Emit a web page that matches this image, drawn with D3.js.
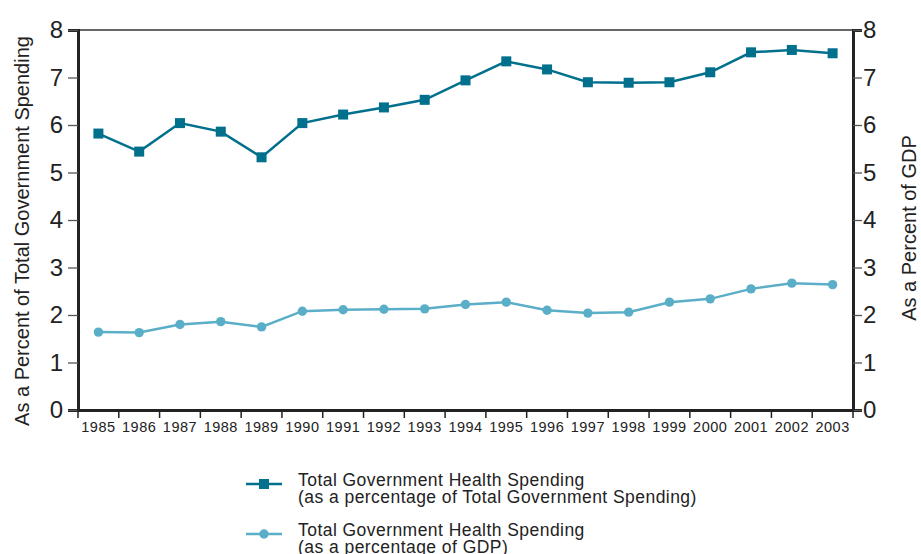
<!DOCTYPE html>
<html><head><meta charset="utf-8">
<script src="https://cdn.jsdelivr.net/npm/d3@7"></script>
<style>body{margin:0;background:#fff}svg{display:block;font-family:"Liberation Sans",Arial,sans-serif}</style>
</head><body><svg id="c" width="921" height="554"></svg>
<script>
const years = ["1985","1986","1987","1988","1989","1990","1991","1992","1993","1994","1995","1996","1997","1998","1999","2000","2001","2002","2003"];
const pctGovSpending = [5.82,5.44,6.04,5.86,5.32,6.04,6.22,6.37,6.53,6.94,7.34,7.17,6.90,6.89,6.90,7.11,7.53,7.58,7.51];
const pctGDP = [1.64,1.63,1.80,1.86,1.75,2.08,2.11,2.12,2.13,2.22,2.27,2.10,2.04,2.06,2.27,2.34,2.55,2.67,2.64];
const yTicks = [0,1,2,3,4,5,6,7,8];
const leftTitle = "As a Percent of Total Government Spending";
const rightTitle = "As a Percent of GDP";
const legendLabels = [["Total Government Health Spending","(as a percentage of Total Government Spending)"],["Total Government Health Spending","(as a percentage of GDP)"]];

const c1 = "#00708d", c2 = "#5aaec7";
const svg = d3.select("#c");
const L = 78, R = 853, T = 30, B = 410;
const x = d3.scaleBand().domain(years).range([L, R]);
const y = d3.scaleLinear().domain([0, 8]).range([B, T]);

svg.append("line").attr("x1", L).attr("x2", R).attr("y1", T).attr("y2", T).attr("stroke", "#333").attr("stroke-width", 1.5);

const gl = svg.append("g").attr("transform", `translate(${L},0)`)
  .call(d3.axisLeft(y).tickValues(yTicks).tickSize(10).tickPadding(5).tickFormat(d3.format("d")));
gl.select(".domain").attr("stroke", "#222").attr("stroke-width", 3);
gl.selectAll(".tick line").attr("stroke", "#555").attr("stroke-width", 1.3);
gl.selectAll(".tick text").attr("font-size", 24).attr("fill", "#222").attr("font-family", "Liberation Sans, Arial, sans-serif");

const gr = svg.append("g").attr("transform", `translate(${R},0)`)
  .call(d3.axisRight(y).tickValues(yTicks).tickSize(9).tickPadding(1).tickFormat(d3.format("d")));
gr.select(".domain").attr("stroke", "#222").attr("stroke-width", 3);
gr.selectAll(".tick line").attr("stroke", "#555").attr("stroke-width", 1.3);
gr.selectAll(".tick text").attr("font-size", 24).attr("fill", "#222").attr("font-family", "Liberation Sans, Arial, sans-serif");

const gb = svg.append("g").attr("transform", `translate(0,${B})`)
  .call(d3.axisBottom(x).tickSize(0).tickPadding(12));
gb.select(".domain").attr("stroke", "#222").attr("stroke-width", 3);
gb.selectAll(".tick text").attr("font-size", 14.5).attr("letter-spacing", 0.5).attr("fill", "#222").attr("font-family", "Liberation Sans, Arial, sans-serif");
const edges = years.map(d => x(d)).concat([R]);
gb.selectAll(".edge").data(edges).join("line").attr("class", "edge")
  .attr("x1", d => d).attr("x2", d => d).attr("y1", 0).attr("y2", 8)
  .attr("stroke", "#222").attr("stroke-width", 1.5);

svg.append("text").attr("transform", `translate(29,${(T + B) / 2 + 11}) rotate(-90)`)
  .attr("text-anchor", "middle").attr("font-size", 20).attr("fill", "#222").text(leftTitle);
svg.append("text").attr("transform", `translate(916,228) rotate(-90)`)
  .attr("text-anchor", "middle").attr("font-size", 20).attr("fill", "#222").text(rightTitle);

const cx = d => x(d) + x.bandwidth() / 2;
const line = d3.line().x((d, i) => cx(years[i])).y(d => y(d));

svg.append("path").datum(pctGDP).attr("d", line).attr("fill", "none").attr("stroke", c2).attr("stroke-width", 2.5);
svg.selectAll(".cir").data(pctGDP).join("circle").attr("class", "cir")
  .attr("cx", (d, i) => cx(years[i])).attr("cy", d => y(d)).attr("r", 4.7).attr("fill", c2);

svg.append("path").datum(pctGovSpending).attr("d", line).attr("fill", "none").attr("stroke", c1).attr("stroke-width", 2.5);
const s = 10;
svg.selectAll(".sq").data(pctGovSpending).join("rect").attr("class", "sq")
  .attr("x", (d, i) => cx(years[i]) - s / 2).attr("y", d => y(d) - s / 2).attr("width", s).attr("height", s).attr("fill", c1);

const lg = svg.append("g");
const ly = [484, 534];
lg.append("line").attr("x1", 246).attr("x2", 282).attr("y1", ly[0]).attr("y2", ly[0]).attr("stroke", c1).attr("stroke-width", 2.5);
lg.append("rect").attr("x", 264 - s / 2).attr("y", ly[0] - s / 2).attr("width", s).attr("height", s).attr("fill", c1);
lg.append("line").attr("x1", 246).attr("x2", 282).attr("y1", ly[1]).attr("y2", ly[1]).attr("stroke", c2).attr("stroke-width", 2.5);
lg.append("circle").attr("cx", 264).attr("cy", ly[1]).attr("r", 4.7).attr("fill", c2);
legendLabels.forEach((lab, i) => {
  const t = lg.append("text").attr("x", 298).attr("y", ly[i] + 2).attr("font-size", 17.5).attr("letter-spacing", 0.45).attr("fill", "#222");
  t.append("tspan").attr("x", 298).attr("dy", 0).text(lab[0]);
  t.append("tspan").attr("x", 298).attr("dy", 16.5).text(lab[1]);
});
</script></body></html>
